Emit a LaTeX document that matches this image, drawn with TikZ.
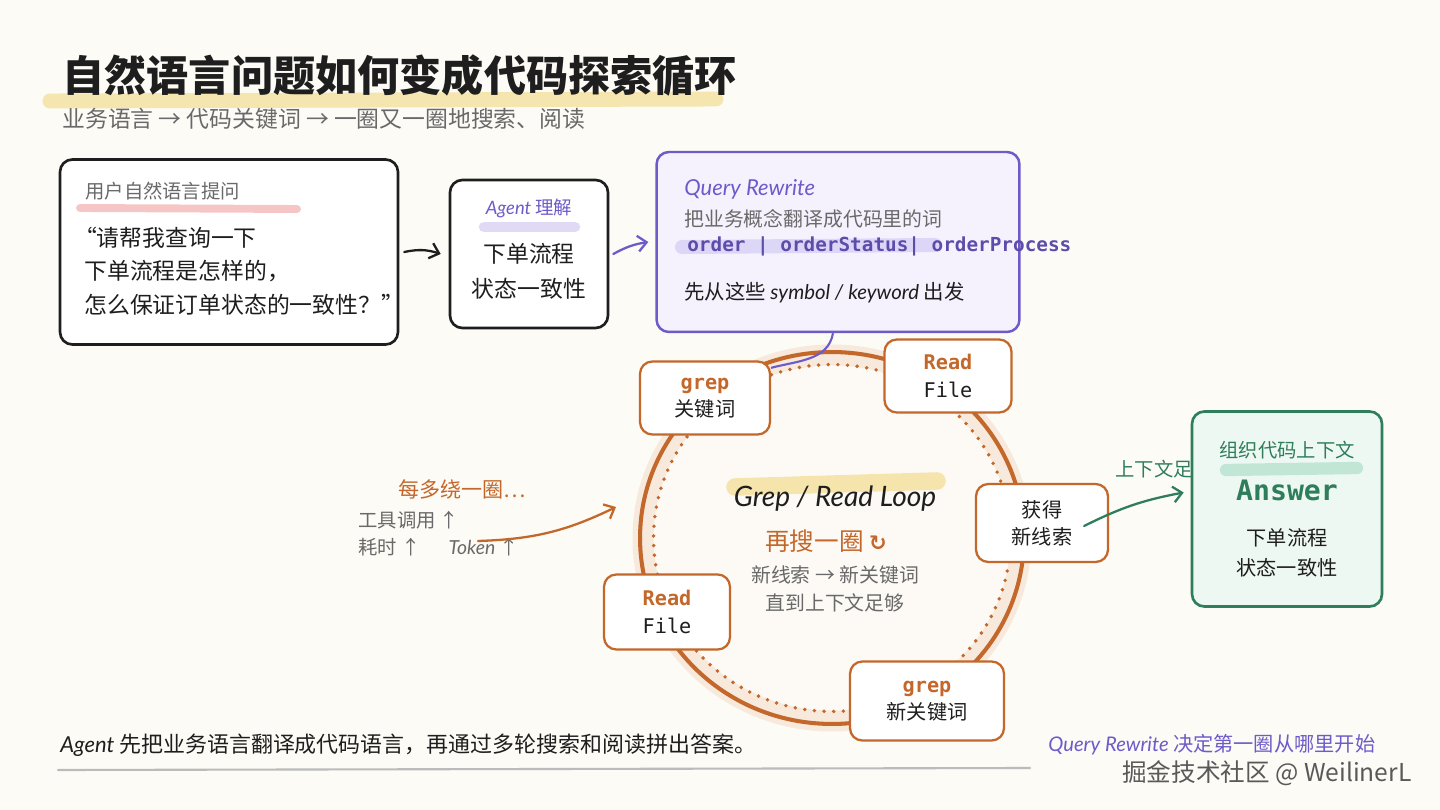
\documentclass[tikz,border=0pt]{standalone}
\usepackage{fontspec}
\setmainfont{Noto Sans CJK SC}
\newfontfamily\codefont{DejaVu Sans Mono}
\newfontfamily\handfont{Lato}
\newfontfamily\symfont{DejaVu Sans}
\usetikzlibrary{arrows.meta}
\definecolor{bgCream}{RGB}{252,251,246}
\definecolor{inkBlack}{RGB}{30,30,30}
\definecolor{inkGray}{RGB}{105,105,105}
\definecolor{hlYellow}{RGB}{243,222,150}
\definecolor{hlPink}{RGB}{242,180,178}
\definecolor{hlLavender}{RGB}{214,206,245}
\definecolor{hlMint}{RGB}{180,225,204}
\definecolor{rwPurple}{RGB}{110,90,200}
\definecolor{rwFill}{RGB}{245,242,254}
\definecolor{loopOrange}{RGB}{196,103,42}
\definecolor{loopHalo}{RGB}{244,218,198}
\definecolor{loopFill}{RGB}{253,250,245}
\definecolor{ansGreen}{RGB}{46,125,91}
\definecolor{ansFill}{RGB}{238,248,243}
\newcommand{\hw}[1]{{\handfont\itshape #1}}
\newcommand{\fs}[2]{\fontsize{#1}{#2}\selectfont}
\tikzset{
  basebox/.style={rectangle,rounded corners=7pt,fill=white,inner sep=0pt,align=center},
  inkbox/.style={basebox,draw=inkBlack,line width=1.5pt},
  rwbox/.style={basebox,draw=rwPurple,fill=rwFill,line width=1.4pt},
  loopbox/.style={basebox,draw=loopOrange,line width=1.3pt,font=\fs{11.5}{15.5},text=inkBlack},
  ansbox/.style={basebox,draw=ansGreen,fill=ansFill,line width=1.5pt},
  txt/.style={inner sep=0pt,anchor=west},
  ctxt/.style={inner sep=0pt,align=center},
  hl/.style={line cap=round,line width=#1,opacity=0.75},
  arr/.style={-{Straight Barb[length=5pt,width=9pt]},line width=1.3pt,line cap=round},
  blackarr/.style={arr,color=inkBlack},
  purplearr/.style={arr,color=rwPurple},
  orangearr/.style={arr,color=loopOrange},
  greenarr/.style={arr,color=ansGreen}
}
\begin{document}
\begin{tikzpicture}[x=0.02cm,y=-0.02cm]
  %% Canvas
  \fill[bgCream] (0,0) rectangle (1440,810);
  \useasboundingbox (0,0) rectangle (1440,810);

  %% Title
  \draw[hl=8.5pt,hlYellow] (50,101) -- (716,99);
  \node[txt,font=\fs{24}{28}\bfseries,text=inkBlack] (title) at (62,76) {自然语言问题如何变成代码探索循环};
  \node[txt,font=\fs{13}{15},text=inkGray] (subtitle) at (62,119) {业务语言 → 代码关键词 → 一圈又一圈地搜索、阅读};

  %% Question box
  \node[inkbox,minimum width=6.76cm,minimum height=3.70cm] (qbox) at (229,252) {};
  \draw[hl=4.5pt,hlPink] (80,208) -- (297,209);
  \node[txt,font=\fs{11}{13},text=inkGray] (qhead) at (85,191) {用户自然语言提问};
  \node[txt,font=\fs{13}{19},text=inkBlack,align=left] (qtext) at (84,271)
    {\hspace{-0.45em}“请帮我查询一下\\下单流程是怎样的，\\怎么保证订单状态的一致性？”};

  %% Agent box
  \node[inkbox,minimum width=3.16cm,minimum height=2.96cm] (agent) at (529,254) {};
  \draw[hl=6pt,hlLavender] (484,227) -- (575,227);
  \node[ctxt,font=\fs{10.5}{13},text=rwPurple] (agenthead) at (529,208) {\hw{Agent} 理解};
  \node[ctxt,font=\fs{13}{20},text=inkBlack] (agenttext) at (529,271) {下单流程\\状态一致性};

  %% Query Rewrite box
  \node[rwbox,minimum width=7.26cm,minimum height=3.60cm] (rewrite) at (838,242) {};
  \node[txt,font=\fs{12.5}{15},text=rwPurple] (rwhead) at (684,189) {\hw{Query Rewrite}};
  \node[txt,font=\fs{11.3}{14},text=inkGray] (rwdesc) at (684,219) {把业务概念翻译成代码里的词};
  \draw[hl=8pt,hlLavender] (682,247) -- (935,245);
  \node[txt,font=\fs{11}{14}\codefont\bfseries,text=rwPurple!85!black] (rwcode) at (687,246)
    {order | orderStatus| orderProcess};
  \node[txt,font=\fs{11.6}{14},text=inkBlack] (rwstart) at (684,293) {先从这些 \hw{symbol / keyword} 出发};

  \draw[blackarr] ([xshift=0.1cm]qbox.east) to[bend left=15] ([xshift=-0.16cm]agent.west);
  \draw[purplearr] ([xshift=0.08cm]agent.east) to[bend left=10] ([xshift=-0.14cm,yshift=0.0cm]rewrite.west);

  %% Loop ring
  \fill[loopFill] (832,538) ellipse [x radius=3.80cm, y radius=3.68cm];
  \draw[loopHalo,line width=12pt,opacity=0.5] (832,538) ellipse [x radius=3.78cm, y radius=3.66cm];
  \draw[loopOrange,line width=2.2pt,line cap=round,dash pattern=on 0pt off 5.5pt]
    (832,538) ellipse [x radius=3.57cm, y radius=3.47cm];
  \draw[loopOrange,line width=2.3pt] (832,538) ellipse [x radius=3.84cm, y radius=3.72cm];

  %% Loop centre
  \draw[hl=10pt,hlYellow] (735,487) -- (937,481);
  \node[ctxt,font=\fs{16}{18},text=inkBlack] (looptitle) at (835,499) {\hw{Grep / Read Loop}};
  \node[ctxt,font=\fs{14}{17},text=loopOrange] (again) at (826,541) {再搜一圈 {\symfont\bfseries\fs{12}{14}↻}};
  \node[ctxt,font=\fs{11.3}{16},text=inkGray] (loopnote) at (835,589) {新线索 → 新关键词\\直到上下文足够};

  %% Loop steps
  \node[loopbox,minimum width=2.60cm,minimum height=1.46cm] (grepA) at (705,398)
    {{\codefont\bfseries\color{loopOrange}grep}\\关键词};
  \node[loopbox,minimum width=2.54cm,minimum height=1.46cm] (readA) at (948,376)
    {{\codefont\bfseries\color{loopOrange}Read}\\{\codefont File}};
  \node[loopbox,minimum width=2.64cm,minimum height=1.56cm] (clue) at (1042,523)
    {获得\\新线索};
  \node[loopbox,minimum width=3.08cm,minimum height=1.58cm] (grepB) at (927,701)
    {{\codefont\bfseries\color{loopOrange}grep}\\新关键词};
  \node[loopbox,minimum width=2.52cm,minimum height=1.50cm] (readB) at (667,612)
    {{\codefont\bfseries\color{loopOrange}Read}\\{\codefont File}};

  \draw[rwPurple,line width=1.2pt] ([xshift=-0.1cm]rewrite.south) to[out=-100,in=15] ([yshift=-0.15cm]grepA.north east);

  %% Cost note
  \node[txt,font=\fs{12}{14},text=loopOrange] (costhead) at (398,489) {每多绕一圈…};
  \node[txt,font=\fs{11}{13},text=inkGray] (costtools) at (358,520) {工具调用 ↑};
  \node[txt,font=\fs{11}{13},text=inkGray] (costtime) at (358,547) {耗时 ↑ \quad\ \hw{Token} ↑};
  \coordinate (costtail) at (478,541);
  \coordinate (costtip) at (616,507);
  \draw[orangearr] (costtail) to[bend right=12] (costtip);

  %% Answer box
  \node[ansbox,minimum width=3.80cm,minimum height=3.90cm] (answer) at (1287,509) {};
  \draw[hl=7pt,hlMint] (1226,470) -- (1357,468);
  \node[ctxt,font=\fs{11}{13},text=ansGreen] (anshead) at (1287,450) {组织代码上下文};
  \node[ctxt,font=\fs{16}{18}\codefont\bfseries,text=ansGreen] (answord) at (1287,490) {Answer};
  \node[ctxt,font=\fs{11.5}{17},text=inkBlack] (anstext) at (1287,553) {下单流程\\状态一致性};
  \draw[greenarr] ([xshift=-0.5cm,yshift=-0.06cm]clue.east) to[bend left=8] ([xshift=-0.14cm,yshift=0.33cm]answer.west);
  \node[ctxt,font=\fs{11}{13},text=ansGreen] (enough) at (1154,469) {上下文足};

  %% Footer
  \draw[inkGray!45,line width=1.2pt,line cap=round] (58,770) -- (1030,768);
  \node[txt,font=\fs{12.5}{14},text=inkBlack] (summary) at (60,745)
    {\hw{Agent} 先把业务语言翻译成代码语言，再通过多轮搜索和阅读拼出答案。};
  \node[txt,font=\fs{11.5}{13},text=rwPurple] (rwnote) at (1048,745) {\hw{Query Rewrite} 决定第一圈从哪里开始};
  \node[txt,font=\fs{14}{16},text=black!65] (mark) at (1122,773) {掘金技术社区 @ WeilinerL};
\end{tikzpicture}
\end{document}
